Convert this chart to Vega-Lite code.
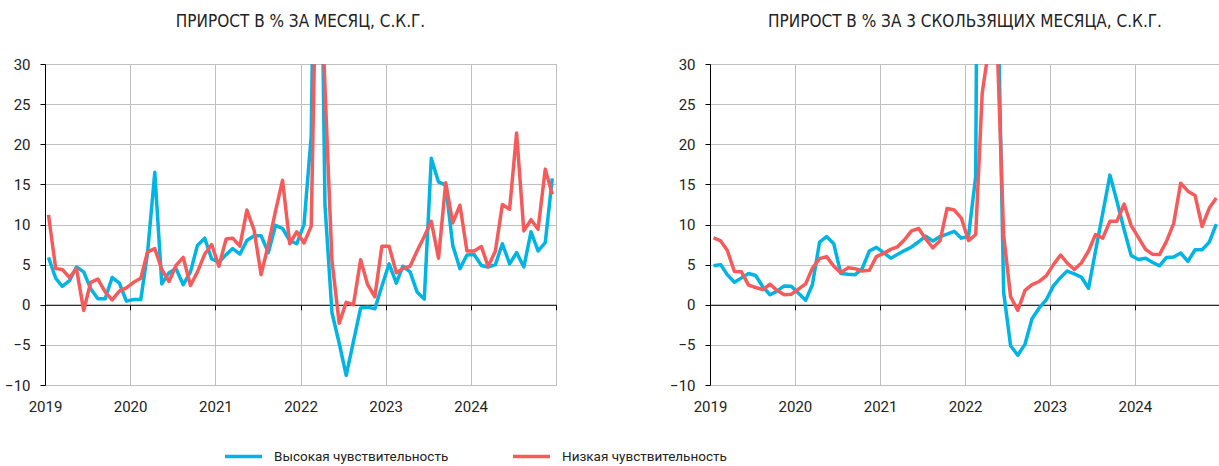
{
  "$schema": "https://vega.github.io/schema/vega-lite/v6.json",
  "padding": {"left": 4, "top": 12, "right": 2, "bottom": 5},
  "background": "white",
  "config": {
    "font": "Roboto",
    "view": {"stroke": "#c0c0c0", "strokeWidth": 1},
    "axis": {"labelFont": "Roboto", "labelFontSize": 15, "labelColor": "#222222", "title": null},
    "title": {"font": "Liberation Sans Narrow, DejaVu Sans Condensed, Roboto", "fontSize": 17, "fontWeight": "normal", "color": "#222222", "offset": 26, "anchor": "middle"},
    "legend": {
      "orient": "none", "legendX": 178, "legendY": 372, "direction": "horizontal",
      "symbolType": "stroke", "symbolStrokeWidth": 4, "symbolSize": 1369,
      "labelFont": "Roboto", "labelFontSize": 13.5, "labelLimit": 0, "labelColor": "#222222", "columnPadding": 62, "labelOffset": 10, "title": null
    },
    "line": {"strokeWidth": 3.5, "strokeJoin": "round"}
  },
  "datasets": {
    "m": [
      {"date": "2019-01-16", "hi": 5.9, "lo": 11.2},
      {"date": "2019-02-16", "hi": 3.3, "lo": 4.5},
      {"date": "2019-03-16", "hi": 2.3, "lo": 4.4},
      {"date": "2019-04-16", "hi": 3.0, "lo": 3.4},
      {"date": "2019-05-16", "hi": 4.7, "lo": 4.5},
      {"date": "2019-06-16", "hi": 4.1, "lo": -0.7},
      {"date": "2019-07-16", "hi": 2.0, "lo": 2.8},
      {"date": "2019-08-16", "hi": 0.75, "lo": 3.2},
      {"date": "2019-09-16", "hi": 0.75, "lo": 1.6},
      {"date": "2019-10-16", "hi": 3.4, "lo": 0.6},
      {"date": "2019-11-16", "hi": 2.7, "lo": 1.7},
      {"date": "2019-12-16", "hi": 0.45, "lo": 2.1},
      {"date": "2020-01-16", "hi": 0.65, "lo": 2.8},
      {"date": "2020-02-16", "hi": 0.65, "lo": 3.3},
      {"date": "2020-03-16", "hi": 6.5, "lo": 6.6},
      {"date": "2020-04-16", "hi": 16.5, "lo": 7.0},
      {"date": "2020-05-16", "hi": 2.6, "lo": 4.4},
      {"date": "2020-06-16", "hi": 4.0, "lo": 2.9},
      {"date": "2020-07-16", "hi": 4.5, "lo": 4.9},
      {"date": "2020-08-16", "hi": 2.5, "lo": 5.9},
      {"date": "2020-09-16", "hi": 4.1, "lo": 2.4},
      {"date": "2020-10-16", "hi": 7.4, "lo": 4.1},
      {"date": "2020-11-16", "hi": 8.3, "lo": 6.3},
      {"date": "2020-12-16", "hi": 5.7, "lo": 7.5},
      {"date": "2021-01-16", "hi": 5.3, "lo": 4.8},
      {"date": "2021-02-16", "hi": 6.25, "lo": 8.2},
      {"date": "2021-03-16", "hi": 7.0, "lo": 8.3},
      {"date": "2021-04-16", "hi": 6.3, "lo": 7.3},
      {"date": "2021-05-16", "hi": 8.0, "lo": 11.8},
      {"date": "2021-06-16", "hi": 8.6, "lo": 9.3},
      {"date": "2021-07-16", "hi": 8.6, "lo": 3.75},
      {"date": "2021-08-16", "hi": 6.5, "lo": 7.5},
      {"date": "2021-09-16", "hi": 9.9, "lo": 11.7},
      {"date": "2021-10-16", "hi": 9.5, "lo": 15.5},
      {"date": "2021-11-16", "hi": 8.0, "lo": 7.6},
      {"date": "2021-12-16", "hi": 7.6, "lo": 9.1},
      {"date": "2022-01-16", "hi": 10.0, "lo": 7.7},
      {"date": "2022-02-16", "hi": 21, "lo": 9.8},
      {"date": "2022-03-16", "hi": 80, "lo": 53},
      {"date": "2022-04-16", "hi": 12.4, "lo": 27},
      {"date": "2022-05-16", "hi": -1.0, "lo": 5.5},
      {"date": "2022-06-16", "hi": -4.8, "lo": -2.3},
      {"date": "2022-07-16", "hi": -8.8, "lo": 0.3},
      {"date": "2022-08-16", "hi": -4.6, "lo": 0.0},
      {"date": "2022-09-16", "hi": -0.4, "lo": 5.6},
      {"date": "2022-10-16", "hi": -0.3, "lo": 2.5},
      {"date": "2022-11-16", "hi": -0.5, "lo": 1.0},
      {"date": "2022-12-16", "hi": 2.3, "lo": 7.3},
      {"date": "2023-01-16", "hi": 5.1, "lo": 7.3},
      {"date": "2023-02-16", "hi": 2.7, "lo": 4.0},
      {"date": "2023-03-16", "hi": 4.8, "lo": 4.5},
      {"date": "2023-04-16", "hi": 4.1, "lo": 4.8},
      {"date": "2023-05-16", "hi": 1.6, "lo": 6.7},
      {"date": "2023-06-16", "hi": 0.7, "lo": 8.5},
      {"date": "2023-07-16", "hi": 18.25, "lo": 10.4},
      {"date": "2023-08-16", "hi": 15.3, "lo": 5.8},
      {"date": "2023-09-16", "hi": 14.9, "lo": 15.2},
      {"date": "2023-10-16", "hi": 7.4, "lo": 10.2},
      {"date": "2023-11-16", "hi": 4.5, "lo": 12.4},
      {"date": "2023-12-16", "hi": 6.2, "lo": 6.7},
      {"date": "2024-01-16", "hi": 6.25, "lo": 6.7},
      {"date": "2024-02-16", "hi": 4.9, "lo": 7.25},
      {"date": "2024-03-16", "hi": 4.7, "lo": 4.75},
      {"date": "2024-04-16", "hi": 5.0, "lo": 6.7},
      {"date": "2024-05-16", "hi": 7.6, "lo": 12.5},
      {"date": "2024-06-16", "hi": 5.1, "lo": 11.9},
      {"date": "2024-07-16", "hi": 6.5, "lo": 21.4},
      {"date": "2024-08-16", "hi": 4.7, "lo": 9.2},
      {"date": "2024-09-16", "hi": 9.1, "lo": 10.6},
      {"date": "2024-10-16", "hi": 6.7, "lo": 9.4},
      {"date": "2024-11-16", "hi": 7.75, "lo": 16.9},
      {"date": "2024-12-16", "hi": 15.75, "lo": 13.75}
    ],
    "q": [
      {"date": "2019-01-16", "hi": 4.85, "lo": 8.35},
      {"date": "2019-02-16", "hi": 5.0, "lo": 7.95},
      {"date": "2019-03-16", "hi": 3.75, "lo": 6.8},
      {"date": "2019-04-16", "hi": 2.8, "lo": 4.15},
      {"date": "2019-05-16", "hi": 3.35, "lo": 4.1},
      {"date": "2019-06-16", "hi": 3.9, "lo": 2.45},
      {"date": "2019-07-16", "hi": 3.65, "lo": 2.15},
      {"date": "2019-08-16", "hi": 2.25, "lo": 1.9},
      {"date": "2019-09-16", "hi": 1.25, "lo": 2.55},
      {"date": "2019-10-16", "hi": 1.7, "lo": 1.8},
      {"date": "2019-11-16", "hi": 2.35, "lo": 1.25},
      {"date": "2019-12-16", "hi": 2.3, "lo": 1.3},
      {"date": "2020-01-16", "hi": 1.45, "lo": 1.95},
      {"date": "2020-02-16", "hi": 0.55, "lo": 2.6},
      {"date": "2020-03-16", "hi": 2.5, "lo": 4.55},
      {"date": "2020-04-16", "hi": 7.8, "lo": 5.75},
      {"date": "2020-05-16", "hi": 8.5, "lo": 6.0},
      {"date": "2020-06-16", "hi": 7.6, "lo": 4.8},
      {"date": "2020-07-16", "hi": 3.9, "lo": 4.0},
      {"date": "2020-08-16", "hi": 3.8, "lo": 4.6},
      {"date": "2020-09-16", "hi": 3.75, "lo": 4.5},
      {"date": "2020-10-16", "hi": 4.5, "lo": 4.2},
      {"date": "2020-11-16", "hi": 6.7, "lo": 4.3},
      {"date": "2020-12-16", "hi": 7.15, "lo": 6.0},
      {"date": "2021-01-16", "hi": 6.5, "lo": 6.4},
      {"date": "2021-02-16", "hi": 5.8, "lo": 6.9},
      {"date": "2021-03-16", "hi": 6.25, "lo": 7.2},
      {"date": "2021-04-16", "hi": 6.75, "lo": 8.1},
      {"date": "2021-05-16", "hi": 7.2, "lo": 9.2},
      {"date": "2021-06-16", "hi": 7.85, "lo": 9.5},
      {"date": "2021-07-16", "hi": 8.55, "lo": 8.2},
      {"date": "2021-08-16", "hi": 7.95, "lo": 7.1},
      {"date": "2021-09-16", "hi": 8.5, "lo": 8.0},
      {"date": "2021-10-16", "hi": 8.8, "lo": 12.0},
      {"date": "2021-11-16", "hi": 9.15, "lo": 11.8},
      {"date": "2021-12-16", "hi": 8.3, "lo": 10.8},
      {"date": "2022-01-16", "hi": 8.5, "lo": 8.0},
      {"date": "2022-02-16", "hi": 16, "lo": 8.75},
      {"date": "2022-03-16", "hi": 150, "lo": 26.4},
      {"date": "2022-04-16", "hi": 120, "lo": 32.5},
      {"date": "2022-05-16", "hi": 48, "lo": 35.5},
      {"date": "2022-06-16", "hi": 1.6, "lo": 8.7},
      {"date": "2022-07-16", "hi": -5.1, "lo": 1.0},
      {"date": "2022-08-16", "hi": -6.3, "lo": -0.7},
      {"date": "2022-09-16", "hi": -4.9, "lo": 1.8},
      {"date": "2022-10-16", "hi": -1.75, "lo": 2.5},
      {"date": "2022-11-16", "hi": -0.4, "lo": 2.9},
      {"date": "2022-12-16", "hi": 0.6, "lo": 3.6},
      {"date": "2023-01-16", "hi": 2.35, "lo": 5.0},
      {"date": "2023-02-16", "hi": 3.4, "lo": 6.2},
      {"date": "2023-03-16", "hi": 4.2, "lo": 5.2},
      {"date": "2023-04-16", "hi": 3.85, "lo": 4.4},
      {"date": "2023-05-16", "hi": 3.45, "lo": 5.2},
      {"date": "2023-06-16", "hi": 2.05, "lo": 6.7},
      {"date": "2023-07-16", "hi": 6.7, "lo": 8.75},
      {"date": "2023-08-16", "hi": 11.4, "lo": 8.3},
      {"date": "2023-09-16", "hi": 16.15, "lo": 10.4},
      {"date": "2023-10-16", "hi": 12.9, "lo": 10.4},
      {"date": "2023-11-16", "hi": 9.35, "lo": 12.55},
      {"date": "2023-12-16", "hi": 6.15, "lo": 9.9},
      {"date": "2024-01-16", "hi": 5.65, "lo": 8.4},
      {"date": "2024-02-16", "hi": 5.8, "lo": 6.9},
      {"date": "2024-03-16", "hi": 5.3, "lo": 6.3},
      {"date": "2024-04-16", "hi": 4.85, "lo": 6.25},
      {"date": "2024-05-16", "hi": 5.9, "lo": 7.9},
      {"date": "2024-06-16", "hi": 5.95, "lo": 10.15},
      {"date": "2024-07-16", "hi": 6.45, "lo": 15.15},
      {"date": "2024-08-16", "hi": 5.4, "lo": 14.15},
      {"date": "2024-09-16", "hi": 6.85, "lo": 13.6},
      {"date": "2024-10-16", "hi": 6.85, "lo": 9.75},
      {"date": "2024-11-16", "hi": 7.8, "lo": 12.05},
      {"date": "2024-12-16", "hi": 10.05, "lo": 13.3}
    ]
  },
  "resolve": {"scale": {"color": "shared"}},
  "spacing": 112,
  "hconcat": [
    {
      "width": 511,
      "height": 321,
      "title": {"text": "ПРИРОСТ В % ЗА МЕСЯЦ, С.К.Г."},
      "data": {"name": "m"},
      "transform": [{"fold": ["hi", "lo"], "as": ["s", "v"]}],
      "layer": [
        {
          "mark": {"type": "line", "clip": true},
          "encoding": {
            "x": {
              "field": "date", "type": "temporal",
              "scale": {"domain": [{"year": 2019, "month": 1, "date": 1}, {"year": 2025, "month": 1, "date": 1}], "nice": false},
              "axis": {
                "orient": "bottom",
                "values": [{"year": 2019, "month": 1, "date": 1}, {"year": 2020, "month": 1, "date": 1}, {"year": 2021, "month": 1, "date": 1}, {"year": 2022, "month": 1, "date": 1}, {"year": 2023, "month": 1, "date": 1}, {"year": 2024, "month": 1, "date": 1}],
                "format": "%Y", "grid": true, "gridColor": "#c0c0c0", "domain": false, "ticks": false, "tickSize": 0, "labelPadding": 14, "labelFlush": false
              }
            },
            "y": {
              "field": "v", "type": "quantitative",
              "scale": {"domain": [-10, 30], "nice": false, "zero": false},
              "axis": {"values": [-10, -5, 0, 5, 10, 15, 20, 25, 30], "labelOverlap": false, "grid": true, "gridColor": "#c0c0c0", "domainColor": "#000000", "tickColor": "#000000", "tickSize": 5, "labelPadding": 10, "minExtent": 40, "maxExtent": 40}
            },
            "color": {
              "field": "s", "type": "nominal",
              "scale": {"domain": ["hi", "lo"], "range": ["#00b4e4", "#f65b5b"]},
              "legend": {"labelExpr": "datum.label == 'hi' ? 'Высокая чувствительность' : 'Низкая чувствительность'"}
            }
          }
        },
        {
          "mark": {"type": "line", "opacity": 0, "clip": true},
          "encoding": {
            "x": {
              "field": "date", "type": "temporal",
              "axis": {
                "orient": "bottom",
                "values": [{"year": 2019, "month": 1, "date": 1}, {"year": 2020, "month": 1, "date": 1}, {"year": 2021, "month": 1, "date": 1}, {"year": 2022, "month": 1, "date": 1}, {"year": 2023, "month": 1, "date": 1}, {"year": 2024, "month": 1, "date": 1}, {"year": 2025, "month": 1, "date": 1}],
                "labels": false, "grid": false, "domain": true, "domainColor": "#000000", "ticks": true, "tickColor": "#000000", "tickSize": 5, "offset": -80.25
              }
            },
            "y": {
              "field": "v", "type": "quantitative",
              "axis": {"values": [-10, -5, 0, 5, 10, 15, 20, 25, 30], "labelOverlap": false, "grid": true, "gridColor": "#c0c0c0", "domainColor": "#000000", "tickColor": "#000000", "tickSize": 5, "labelPadding": 10, "minExtent": 40, "maxExtent": 40}
            }
          }
        }
      ],
      "resolve": {"axis": {"x": "independent"}}
    },
    {
      "width": 510,
      "height": 321,
      "title": {"text": "ПРИРОСТ В % ЗА 3 СКОЛЬЗЯЩИХ МЕСЯЦА, С.К.Г."},
      "data": {"name": "q"},
      "transform": [{"fold": ["hi", "lo"], "as": ["s", "v"]}],
      "layer": [
        {
          "mark": {"type": "line", "clip": true},
          "encoding": {
            "x": {
              "field": "date", "type": "temporal",
              "scale": {"domain": [{"year": 2019, "month": 1, "date": 1}, {"year": 2025, "month": 1, "date": 1}], "nice": false},
              "axis": {
                "orient": "bottom",
                "values": [{"year": 2019, "month": 1, "date": 1}, {"year": 2020, "month": 1, "date": 1}, {"year": 2021, "month": 1, "date": 1}, {"year": 2022, "month": 1, "date": 1}, {"year": 2023, "month": 1, "date": 1}, {"year": 2024, "month": 1, "date": 1}],
                "format": "%Y", "grid": true, "gridColor": "#c0c0c0", "domain": false, "ticks": false, "tickSize": 0, "labelPadding": 14, "labelFlush": false
              }
            },
            "y": {
              "field": "v", "type": "quantitative",
              "scale": {"domain": [-10, 30], "nice": false, "zero": false},
              "axis": {"values": [-10, -5, 0, 5, 10, 15, 20, 25, 30], "labelOverlap": false, "grid": true, "gridColor": "#c0c0c0", "domainColor": "#000000", "tickColor": "#000000", "tickSize": 5, "labelPadding": 10, "minExtent": 40, "maxExtent": 40}
            },
            "color": {
              "field": "s", "type": "nominal",
              "scale": {"domain": ["hi", "lo"], "range": ["#00b4e4", "#f65b5b"]},
              "legend": {"labelExpr": "datum.label == 'hi' ? 'Высокая чувствительность' : 'Низкая чувствительность'"}
            }
          }
        },
        {
          "mark": {"type": "line", "opacity": 0, "clip": true},
          "encoding": {
            "x": {
              "field": "date", "type": "temporal",
              "axis": {
                "orient": "bottom",
                "values": [{"year": 2019, "month": 1, "date": 1}, {"year": 2020, "month": 1, "date": 1}, {"year": 2021, "month": 1, "date": 1}, {"year": 2022, "month": 1, "date": 1}, {"year": 2023, "month": 1, "date": 1}, {"year": 2024, "month": 1, "date": 1}, {"year": 2025, "month": 1, "date": 1}],
                "labels": false, "grid": false, "domain": true, "domainColor": "#000000", "ticks": true, "tickColor": "#000000", "tickSize": 5, "offset": -80.25
              }
            },
            "y": {
              "field": "v", "type": "quantitative",
              "axis": {"values": [-10, -5, 0, 5, 10, 15, 20, 25, 30], "labelOverlap": false, "grid": true, "gridColor": "#c0c0c0", "domainColor": "#000000", "tickColor": "#000000", "tickSize": 5, "labelPadding": 10, "minExtent": 40, "maxExtent": 40}
            }
          }
        }
      ],
      "resolve": {"axis": {"x": "independent"}}
    }
  ]
}
